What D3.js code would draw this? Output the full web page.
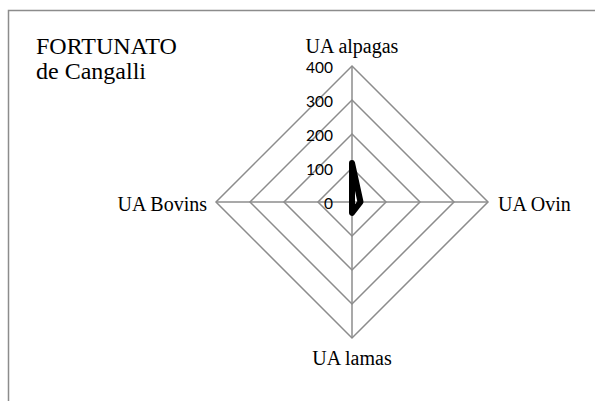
<!DOCTYPE html>
<html>
<head>
<meta charset="utf-8">
<script src="https://cdn.jsdelivr.net/npm/d3@7"></script>
<style>
  body { margin: 0; background: #fff; }
  svg { display: block; }
  .serif { font-family: "Liberation Serif", "Times New Roman", Times, "DejaVu Serif", serif; }
  .sans { font-family: Lato, "Open Sans", sans-serif; }
</style>
</head>
<body>
<div id="radar"></div>
<script>
var categories = ["UA alpagas", "UA Ovin", "UA lamas", "UA Bovins"];
var values = [115, 25, 32, 0];
var tickValues = [0, 100, 200, 300, 400];
var titleLines = ["FORTUNATO", "de Cangalli"];

var W = 595, H = 401;
var cx = 352, cy = 202, R = 136;

var svg = d3.select("#radar").append("svg")
  .attr("width", W)
  .attr("height", H);

// outer frame (right and bottom edges fall outside the picture)
svg.append("path")
  .attr("d", "M8.5," + H + "V10.5H" + W)
  .attr("fill", "none")
  .attr("stroke", "#8c8c8c")
  .attr("stroke-width", 1.5);

var r = d3.scaleLinear().domain([0, 400]).range([0, R]);
var angle = d3.scalePoint().domain(categories).range([0, 2 * Math.PI * 3 / 4]);

function pt(cat, v) {
  var a = angle(cat) - Math.PI / 2;
  return [cx + r(v) * Math.cos(a), cy + r(v) * Math.sin(a)];
}

var g = svg.append("g");

// grid diamonds
g.selectAll(".grid")
  .data(tickValues.filter(function(d) { return d > 0; }))
  .enter().append("polygon")
  .attr("class", "grid")
  .attr("points", function(t) {
    return categories.map(function(c) { return pt(c, t).join(","); }).join(" ");
  })
  .attr("fill", "none")
  .attr("stroke", "#8c8c8c")
  .attr("stroke-width", 1.5);

// spokes
g.selectAll(".spoke")
  .data(categories)
  .enter().append("line")
  .attr("class", "spoke")
  .attr("x1", cx).attr("y1", cy)
  .attr("x2", function(c) { return pt(c, 400)[0]; })
  .attr("y2", function(c) { return pt(c, 400)[1]; })
  .attr("stroke", "#8c8c8c")
  .attr("stroke-width", 1.5);

// tick labels
g.selectAll(".tick")
  .data(tickValues)
  .enter().append("text")
  .attr("class", "tick sans")
  .attr("x", cx - 19)
  .attr("y", function(t) { return cy - r(t) + 7; })
  .attr("text-anchor", "end")
  .attr("font-size", 15.5)
  .attr("fill", "#000")
  .text(function(t) { return t; });

// category labels
var labelPos = {
  "UA alpagas": {dx: 0, dy: -13, anchor: "middle"},
  "UA Ovin": {dx: 10, dy: 9, anchor: "start"},
  "UA lamas": {dx: 0, dy: 27, anchor: "middle"},
  "UA Bovins": {dx: -9, dy: 9, anchor: "end"}
};
g.selectAll(".cat")
  .data(categories)
  .enter().append("text")
  .attr("class", "cat serif")
  .attr("x", function(c) { return pt(c, 400)[0] + labelPos[c].dx; })
  .attr("y", function(c) { return pt(c, 400)[1] + labelPos[c].dy; })
  .attr("text-anchor", function(c) { return labelPos[c].anchor; })
  .attr("font-size", 20)
  .attr("fill", "#000")
  .text(function(c) { return c; });

// data line
var line = d3.line().curve(d3.curveLinearClosed);
g.append("path")
  .datum(categories.map(function(c, i) { return pt(c, values[i]); }))
  .attr("d", line)
  .attr("fill", "none")
  .attr("stroke", "#000")
  .attr("stroke-width", 6)
  .attr("stroke-linejoin", "round");

// title
svg.append("text")
  .attr("class", "serif")
  .attr("x", 36)
  .attr("y", 54)
  .attr("font-size", 24)
  .attr("fill", "#000")
  .selectAll("tspan")
  .data(titleLines)
  .enter().append("tspan")
  .attr("x", 36)
  .attr("dy", function(d, i) { return i === 0 ? 0 : 25; })
  .text(function(d) { return d; });
</script>
</body>
</html>
